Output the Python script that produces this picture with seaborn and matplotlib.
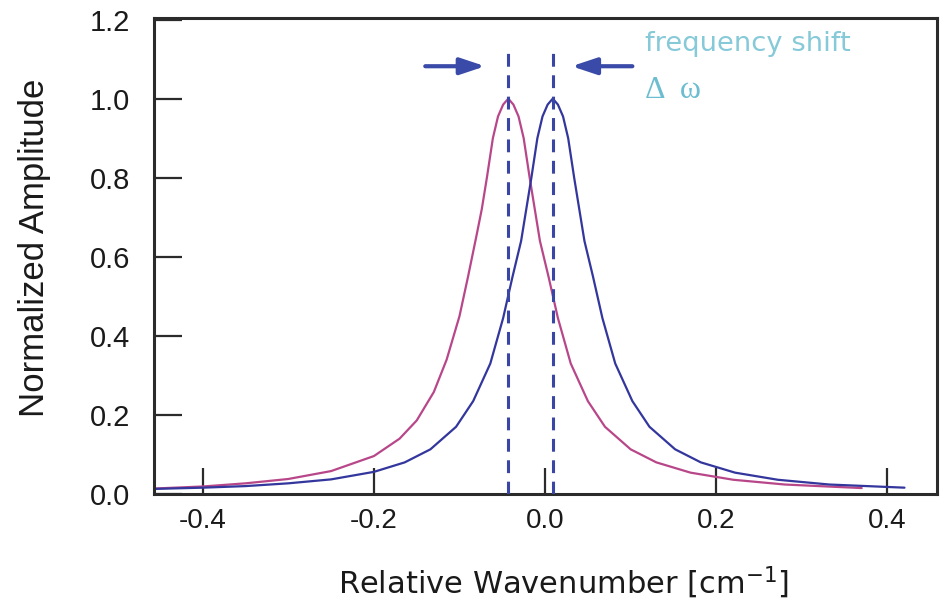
import matplotlib
matplotlib.use("Agg")
import matplotlib.pyplot as plt
import seaborn as sns
import pandas as pd

# ---- data ----
red_x = [-0.455, -0.40, -0.35, -0.30, -0.25, -0.20, -0.17, -0.15, -0.13, -0.115,
         -0.10, -0.09, -0.08, -0.074, -0.068, -0.061, -0.055, -0.049, -0.043,
         -0.037, -0.031, -0.025, -0.018, -0.012, -0.006, 0.004, 0.015, 0.03,
         0.05, 0.07, 0.10, 0.13, 0.17, 0.22, 0.28, 0.37]
red_y = [0.014, 0.019, 0.027, 0.038, 0.058, 0.096, 0.14, 0.186, 0.258, 0.34,
         0.45, 0.55, 0.655, 0.72, 0.80, 0.90, 0.955, 0.985, 1.0,
         0.985, 0.955, 0.90, 0.80, 0.72, 0.64, 0.55, 0.445, 0.33,
         0.235, 0.17, 0.113, 0.08, 0.054, 0.036, 0.024, 0.015]

blue_x = [-0.455, -0.40, -0.35, -0.30, -0.25, -0.20, -0.164, -0.134, -0.104, -0.084,
          -0.064, -0.049, -0.038, -0.028, -0.022, -0.016, -0.009, -0.003, 0.003, 0.009,
          0.015, 0.021, 0.027, 0.034, 0.040, 0.046, 0.056, 0.067, 0.082, 0.102,
          0.122, 0.152, 0.182, 0.222, 0.272, 0.332, 0.42]
blue_y = [0.013, 0.016, 0.02, 0.027, 0.037, 0.056, 0.08, 0.113, 0.17, 0.235,
          0.33, 0.445, 0.55, 0.64, 0.72, 0.80, 0.90, 0.955, 0.985, 1.0,
          0.985, 0.955, 0.90, 0.80, 0.72, 0.64, 0.55, 0.445, 0.33, 0.235,
          0.17, 0.113, 0.08, 0.054, 0.036, 0.024, 0.016]

peak_positions = [-0.043, 0.009]
dash_top = 1.115
arrow_y = 1.082
left_arrow = [-0.140, -0.070]
right_arrow = [0.102, 0.031]

x_ticks = [-0.4, -0.2, 0.0, 0.2, 0.4]
x_ticklabels = ["-0.4", "-0.2", "0.0", "0.2", "0.4"]
y_ticks = [0.0, 0.2, 0.4, 0.6, 0.8, 1.0, 1.2]
y_ticklabels = ["0.0", "0.2", "0.4", "0.6", "0.8", "1.0", "1.2"]

x_label = "Relative Wavenumber [cm$^{-1}$]"
y_label = "Normalized Amplitude"
note_1 = "frequency shift"
note_2 = "\u0394  \u03c9"

# ---- style ----
sns.set_style("white")
plt.rcParams["font.family"] = ["Liberation Sans", "DejaVu Sans"]

red_color = "#b8478a"
blue_color = "#33369c"
dash_color = "#3a46a6"
arrow_color = "#3a4aa8"
text_color = "#86c9d8"
delta_color = "#6dbdd0"
spine_color = "#2b2b2b"

df = pd.concat([
    pd.DataFrame({"x": red_x, "y": red_y, "series": "shifted"}),
    pd.DataFrame({"x": blue_x, "y": blue_y, "series": "reference"}),
], ignore_index=True)

fig = plt.figure(figsize=(9.48, 6.07), dpi=100)
ax = fig.add_axes([154 / 948, 1 - 494 / 607, (937 - 154) / 948, (494 - 18) / 607])

sns.lineplot(data=df, x="x", y="y", hue="series", estimator=None, sort=False,
             palette={"shifted": red_color, "reference": blue_color},
             linewidth=1.6, legend=False, ax=ax)

ax.vlines(peak_positions, 0, dash_top, colors=dash_color, linewidth=2.2,
          linestyles=(0, (4.2, 2.8)), zorder=3)

arrow_style = "-|>,head_length=0.75,head_width=0.25"
ax.annotate("", xy=(left_arrow[1], arrow_y), xytext=(left_arrow[0], arrow_y),
            arrowprops=dict(arrowstyle=arrow_style, lw=3.0, color=arrow_color,
                            mutation_scale=20, shrinkA=0, shrinkB=0))
ax.annotate("", xy=(right_arrow[1], arrow_y), xytext=(right_arrow[0], arrow_y),
            arrowprops=dict(arrowstyle=arrow_style, lw=3.0, color=arrow_color,
                            mutation_scale=20, shrinkA=0, shrinkB=0))

ax.text(0.1166, 1.139, note_1, color=text_color, fontsize=19.7,
        family=["DejaVu Sans"], ha="left", va="center")
ax.text(0.1166, 1.02, note_2, color=delta_color, fontsize=23,
        family=["Liberation Serif", "DejaVu Serif"], ha="left", va="center")

ax.set_xlim(-0.457, 0.458)
ax.set_ylim(0.0, 1.204)
ax.set_xticks(x_ticks)
ax.set_xticklabels(x_ticklabels)
ax.set_yticks(y_ticks)
ax.set_yticklabels(y_ticklabels)

ax.tick_params(axis="both", direction="in", colors=spine_color, width=1.6,
               labelcolor="#1a1a1a", bottom=True, left=True, top=False, right=False)
ax.tick_params(axis="x", length=19, pad=10, labelsize=20)
ax.tick_params(axis="y", length=20, pad=17, labelsize=21)

for s in ax.spines.values():
    s.set_color(spine_color)
    s.set_linewidth(2.2)

ax.set_xlabel(x_label, fontsize=22, family=["DejaVu Sans"], color="#1a1a1a")
ax.set_ylabel(y_label, fontsize=25, color="#1a1a1a")
ax.xaxis.label.set_va("center")
ax.yaxis.label.set_va("center")
ax.xaxis.set_label_coords((563 - 154) / 783, (494 - 583) / 476)
ax.yaxis.set_label_coords((35 - 154) / 783, (494 - 248) / 476)

fig.savefig("out.png", dpi=100, facecolor="white")
